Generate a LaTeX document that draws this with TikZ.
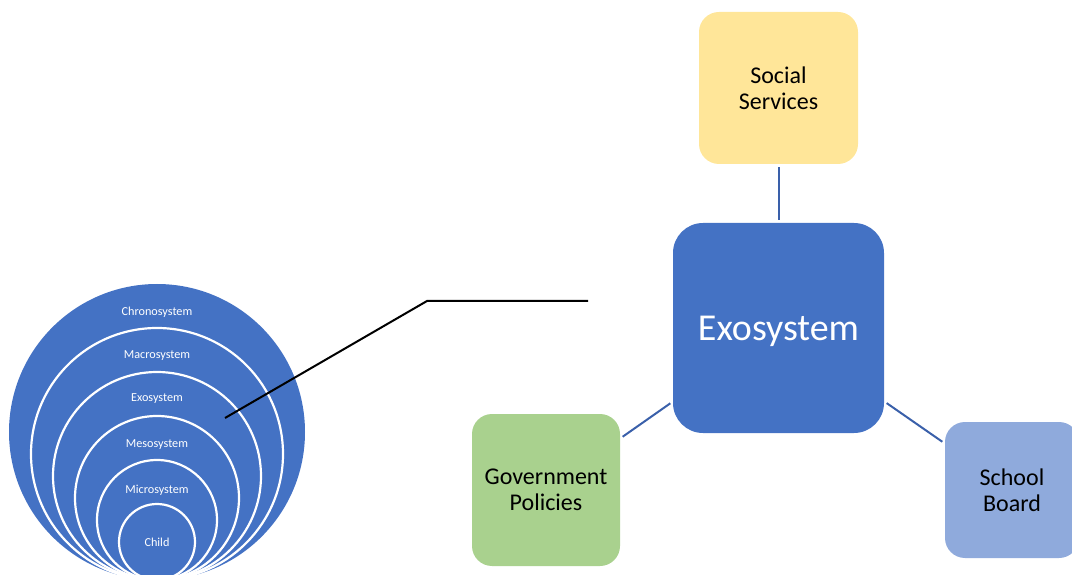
\documentclass[tikz,border=0pt]{standalone}
\usepackage{fontspec}
\setmainfont{Carlito}
\usepackage{tikz}

\definecolor{exoblue}{HTML}{4472C4}
\definecolor{socyellow}{HTML}{FFE699}
\definecolor{govgreen}{HTML}{A9D18E}
\definecolor{schoolblue}{HTML}{8FAADC}
\definecolor{linkblue}{HTML}{3A60AA}

\tikzset{
	box/.style={rounded corners=20pt, inner sep=0pt, align=center, minimum width=148pt, minimum height=152pt, font=\fontsize{24}{26}\selectfont},
	link/.style={draw=linkblue, line width=2pt, shorten <=3pt, shorten >=3pt},
	ring/.style={fill=exoblue, draw=white, line width=2.2pt},
	ringlabel/.style={text=white, inner sep=1pt, font=\fontsize{12.2}{14}\selectfont}
}

\begin{document}
\begin{tikzpicture}[x=1pt,y=1pt]
		\useasboundingbox (0,0) rectangle (1072,574);
		\fill[exoblue] (157,142) circle (148);
		\foreach \r in {126,104,82,60,38}{
			\draw[ring] (157,\r-6) circle (\r);
		}
		\foreach \lab/\ty in {Chronosystem/262,Macrosystem/218,Exosystem/175,Mesosystem/129,Microsystem/84,Child/32}{
			\node[ringlabel] (lab-\lab) at (157,\ty) {\lab};
		}
		\coordinate (pin) at (225,156);
		\coordinate (kink) at (427,273);
		\coordinate (tail) at (588,273);
		\draw[line width=2pt] (pin) -- (kink) -- (tail);

		\node[box, fill=exoblue, text=white, rounded corners=30pt, minimum width=211pt, minimum height=210pt, text depth=0pt, font=\fontsize{38}{40}\selectfont] (exo) at (778.5,246) {Exosystem};
		\node[box, fill=socyellow, minimum width=159pt] (soc) at (778.5,486) {Social\\Services};
		\node[box, fill=govgreen] (gov) at (546,84) {Government\\Policies};
		\node[box, fill=schoolblue, minimum width=134pt, minimum height=136pt] (school) at (1012,84) {School\\Board};
		\draw[link] (exo) -- (soc);
		\draw[link] (exo) -- (gov);
		\draw[link] (exo) -- (school);
	\end{tikzpicture}
\end{document}
